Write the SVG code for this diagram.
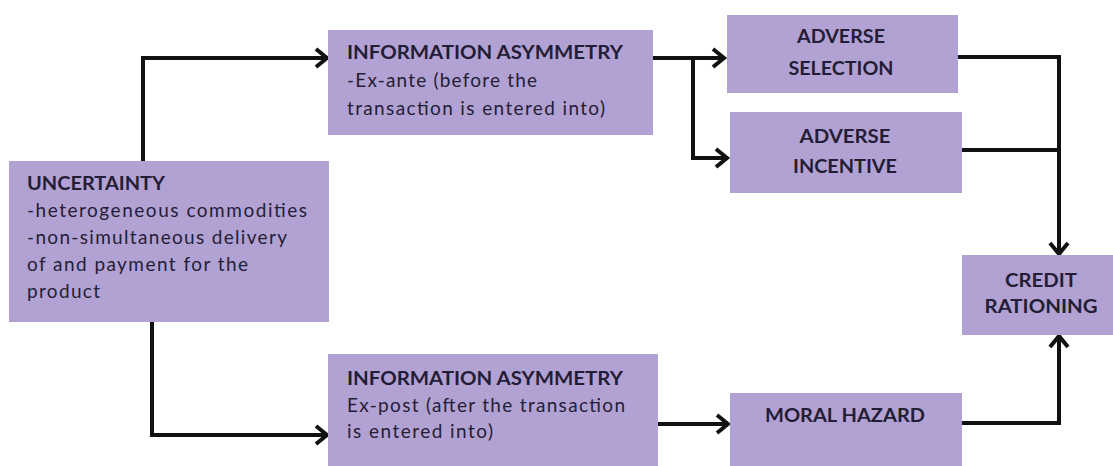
<svg xmlns="http://www.w3.org/2000/svg" width="1113" height="466" viewBox="0 0 1113 466">
<style>
  .box { fill: #b2a2d3; }
  .t { font-family: Lato, "Open Sans", "Liberation Sans", sans-serif; font-size: 19px; fill: #241d36; }
  .b { font-weight: bold; }
  .c { text-anchor: middle; }
  .conn { fill: none; stroke: #111; stroke-width: 4; stroke-linejoin: miter; }
</style>
<defs>
  <marker id="arr" markerUnits="userSpaceOnUse" markerWidth="16" markerHeight="22" refX="12" refY="10" orient="auto" overflow="visible">
    <path d="M1,1 L12,10 L1,19" fill="none" stroke="#111" stroke-width="4"/>
  </marker>
</defs>
<rect width="1113" height="466" fill="#ffffff"/>
<g id="connectors">
  <path class="conn" d="M143,161 V58 H327" marker-end="url(#arr)"/>
  <path class="conn" d="M152,322 V435 H327" marker-end="url(#arr)"/>
  <path class="conn" d="M653,58 H724" marker-end="url(#arr)"/>
  <path class="conn" d="M693,58 V158 H727" marker-end="url(#arr)"/>
  <path class="conn" d="M958,57 H1059 V254" marker-end="url(#arr)"/>
  <path class="conn" d="M962,150 H1059"/>
  <path class="conn" d="M962,423 H1059 V336" marker-end="url(#arr)"/>
  <path class="conn" d="M657,424 H728" marker-end="url(#arr)"/>
</g>
<g id="uncertainty">
  <rect class="box" x="9" y="161" width="320" height="161"/>
  <text class="t b" x="27" y="190" textLength="138" lengthAdjust="spacingAndGlyphs">UNCERTAINTY</text>
  <text class="t" x="27" y="217" textLength="280">-heterogeneous commodities</text>
  <text class="t" x="27" y="244" textLength="260">-non-simultaneous delivery</text>
  <text class="t" x="27" y="271" textLength="221">of and payment for the</text>
  <text class="t" x="27" y="298" textLength="73">product</text>
</g>
<g id="info-ex-ante">
  <rect class="box" x="328" y="30" width="325" height="105"/>
  <text class="t b" x="347" y="59" textLength="276" lengthAdjust="spacingAndGlyphs">INFORMATION ASYMMETRY</text>
  <text class="t" x="347" y="87" textLength="190">-Ex-ante (before the</text>
  <text class="t" x="347" y="115" textLength="258">transaction is entered into)</text>
</g>
<g id="info-ex-post">
  <rect class="box" x="328" y="354" width="330" height="112"/>
  <text class="t b" x="347" y="385" textLength="276" lengthAdjust="spacingAndGlyphs">INFORMATION ASYMMETRY</text>
  <text class="t" x="347" y="412" textLength="278">Ex-post (after the transaction</text>
  <text class="t" x="347" y="438" textLength="146">is entered into)</text>
</g>
<g id="adverse-selection">
  <rect class="box" x="727" y="15" width="231" height="78"/>
  <text class="t b c" x="841" y="43" textLength="88" lengthAdjust="spacingAndGlyphs">ADVERSE</text>
  <text class="t b c" x="841" y="75" textLength="105" lengthAdjust="spacingAndGlyphs">SELECTION</text>
</g>
<g id="adverse-incentive">
  <rect class="box" x="730" y="112" width="232" height="81"/>
  <text class="t b c" x="845" y="143" textLength="91" lengthAdjust="spacingAndGlyphs">ADVERSE</text>
  <text class="t b c" x="845" y="173" textLength="104" lengthAdjust="spacingAndGlyphs">INCENTIVE</text>
</g>
<g id="credit-rationing">
  <rect class="box" x="962" y="255" width="151" height="80"/>
  <text class="t b c" x="1041" y="287" textLength="72" lengthAdjust="spacingAndGlyphs">CREDIT</text>
  <text class="t b c" x="1041" y="313" textLength="113" lengthAdjust="spacingAndGlyphs">RATIONING</text>
</g>
<g id="moral-hazard">
  <rect class="box" x="730" y="393" width="232" height="73"/>
  <text class="t b c" x="845" y="422" textLength="160" lengthAdjust="spacingAndGlyphs">MORAL HAZARD</text>
</g>
</svg>
